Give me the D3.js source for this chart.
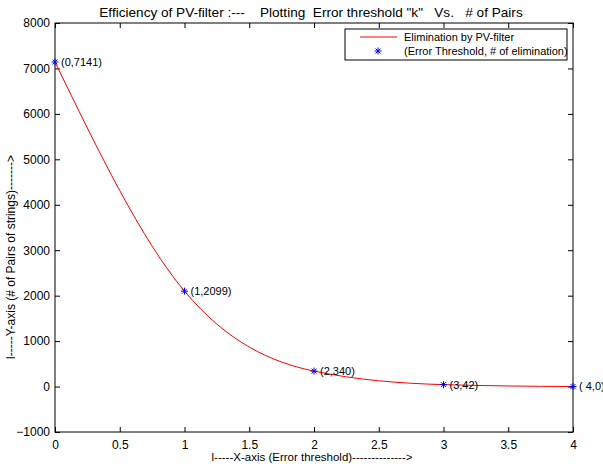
<!DOCTYPE html>
<html>
<head>
<meta charset="utf-8">
<script src="https://cdn.jsdelivr.net/npm/d3@7"></script>
<style>
  body { margin: 0; background: #fff; }
  text { font-family: "Liberation Sans", Arial, sans-serif; fill: #000; }
</style>
</head>
<body>
<svg id="chart" width="603" height="466"></svg>
<script>
// data
var thresholds = [0, 1, 2, 3, 4];
var pairCounts = [7141, 2099, 340, 42, 0];
var pointLabels = ['(0,7141)', '(1,2099)', '(2,340)', '(3,42)', '( 4,0)'];
var xTickValues = [0, 0.5, 1, 1.5, 2, 2.5, 3, 3.5, 4];
var yTickValues = [-1000, 0, 1000, 2000, 3000, 4000, 5000, 6000, 7000, 8000];
var legendLabels = ['Elimination by PV-filter', '(Error Threshold, # of elimination)'];

var titleText = 'Efficiency of PV-filter :---    Plotting  Error threshold "k"   Vs.   # of Pairs';
var xLabelText = 'l-----X-axis (Error threshold)-------------->';
var yLabelText = 'l-----Y-axis (# of Pairs of strings)------->';

var plotLeft = 55, plotRight = 573, plotTop = 23, plotBottom = 432;
var tickLen = 5;

var svg = d3.select('#chart');

var x = d3.scaleLinear().domain([0, 4]).range([plotLeft, plotRight]);
var y = d3.scaleLinear().domain([-1000, 8000]).range([plotBottom, plotTop]);

var points = thresholds.map(function (t, i) {
  return { x: t, y: pairCounts[i], label: pointLabels[i] };
});

// axes, ticks pointing inward on all four sides like matlab
function styleAxis(g) {
  g.select('.domain').remove();
  g.selectAll('.tick line').attr('stroke', '#000');
  g.selectAll('.tick text').style('font-size', '12px').attr('fill', '#000');
}

svg.append('g')
  .attr('transform', 'translate(0,' + plotBottom + ')')
  .call(d3.axisBottom(x).tickValues(xTickValues).tickSize(-tickLen).tickPadding(8).tickFormat(d3.format('')))
  .call(styleAxis);

svg.append('g')
  .attr('transform', 'translate(0,' + plotTop + ')')
  .call(d3.axisTop(x).tickValues(xTickValues).tickSize(-tickLen).tickFormat(''))
  .call(styleAxis);

svg.append('g')
  .attr('transform', 'translate(' + plotLeft + ',0)')
  .call(d3.axisLeft(y).tickValues(yTickValues).tickSize(-tickLen).tickPadding(5).tickFormat(d3.format('d')))
  .call(styleAxis);

svg.append('g')
  .attr('transform', 'translate(' + plotRight + ',0)')
  .call(d3.axisRight(y).tickValues(yTickValues).tickSize(-tickLen).tickFormat(''))
  .call(styleAxis);

svg.append('rect')
  .attr('x', plotLeft).attr('y', plotTop)
  .attr('width', plotRight - plotLeft).attr('height', plotBottom - plotTop)
  .attr('fill', 'none').attr('stroke', '#000').attr('stroke-width', 1);

// interpolated curve
var line = d3.line()
  .x(function (d) { return x(d.x); })
  .y(function (d) { return y(d.y); })
  .curve(d3.curveMonotoneX);

svg.append('path')
  .datum(points)
  .attr('d', line)
  .attr('fill', 'none')
  .attr('stroke', '#ff0000')
  .attr('stroke-width', 1);

// asterisk markers
function asterisk(g, r) {
  g.append('path')
    .attr('d', 'M' + (-r) + ',0H' + r + 'M0,' + (-r) + 'V' + r +
      'M' + (-r * 0.7) + ',' + (-r * 0.7) + 'L' + (r * 0.7) + ',' + (r * 0.7) +
      'M' + (-r * 0.7) + ',' + (r * 0.7) + 'L' + (r * 0.7) + ',' + (-r * 0.7))
    .attr('stroke', '#0000ff')
    .attr('stroke-width', 1)
    .attr('fill', 'none');
}

var marks = svg.selectAll('.mark')
  .data(points)
  .enter()
  .append('g')
  .classed('mark', true)
  .attr('transform', function (d) { return 'translate(' + x(d.x) + ',' + y(d.y) + ')'; });

marks.each(function () { asterisk(d3.select(this), 3.5); });

marks.append('text')
  .attr('x', 6)
  .attr('dy', '0.35em')
  .style('font-size', '11px')
  .text(function (d) { return d.label; });

// titles
svg.append('text')
  .attr('x', 311)
  .attr('y', 17)
  .attr('text-anchor', 'middle')
  .style('font-size', '13.6px')
  .style('white-space', 'pre')
  .attr('xml:space', 'preserve')
  .text(titleText);

svg.append('text')
  .attr('x', 312)
  .attr('y', 461)
  .attr('text-anchor', 'middle')
  .style('font-size', '11.5px')
  .text(xLabelText);

svg.append('text')
  .attr('transform', 'translate(15,257) rotate(-90)')
  .attr('text-anchor', 'middle')
  .style('font-size', '12px')
  .text(yLabelText);

// legend
var legend = svg.append('g');
legend.append('rect')
  .attr('x', 345).attr('y', 29)
  .attr('width', 222).attr('height', 31)
  .attr('fill', '#fff').attr('stroke', '#000');

legend.append('line')
  .attr('x1', 360).attr('x2', 397)
  .attr('y1', 37).attr('y2', 37)
  .attr('stroke', '#ff0000');

asterisk(legend.append('g').attr('transform', 'translate(378,51)'), 3.5);

legend.selectAll('.legend-label')
  .data(legendLabels)
  .enter()
  .append('text')
  .classed('legend-label', true)
  .attr('x', 404)
  .attr('y', function (d, i) { return 37 + i * 14; })
  .attr('dy', '0.35em')
  .style('font-size', '11px')
  .text(function (d) { return d; });
</script>
</body>
</html>
